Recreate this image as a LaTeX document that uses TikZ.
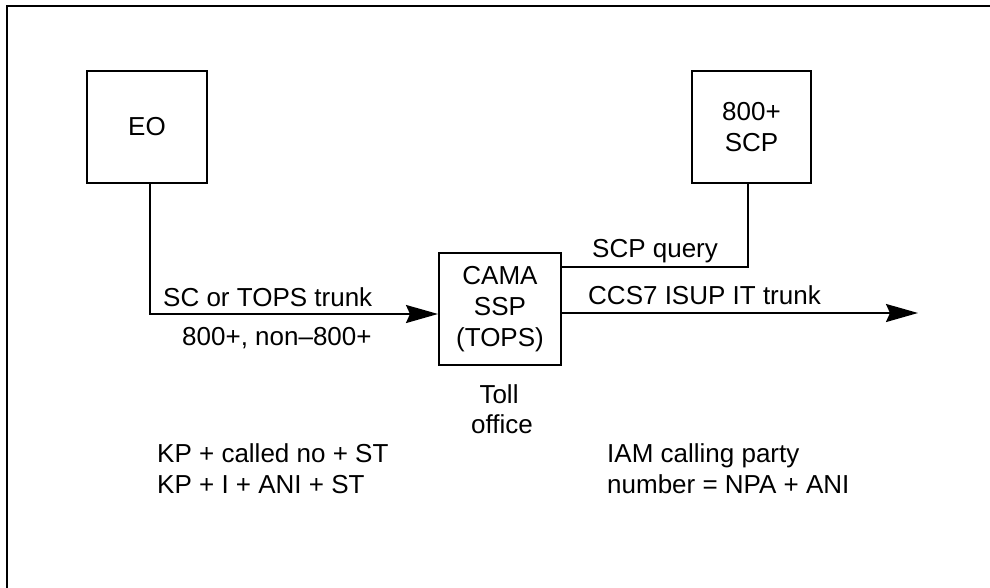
\documentclass[tikz,border=0pt]{standalone}
\usepackage{fontspec}
\setmainfont{Liberation Sans}
\usetikzlibrary{arrows.meta}
\tikzset{
  boxnode/.style={draw, line width=2pt, inner sep=0pt, align=center, font=\fontsize{26}{31}\selectfont},
  lbl/.style={inner sep=0pt, font=\fontsize{26}{31}\selectfont},
  conn/.style={line width=2pt},
  arr/.style={conn, -{Stealth[length=32pt,width=18pt,inset=4pt]}},
  framel/.style={line width=1.6pt}
}
\begin{document}
\begin{tikzpicture}[x=1pt,y=-1pt]
\useasboundingbox (0,0) rectangle (990,587);
% outer frame (cut at right and bottom)
\draw[framel] (7,600) -- (7,6) -- (1000,6);
% boxes
\node[boxnode, minimum width=120pt, minimum height=112pt] (EO) at (147,127) {EO};
\node[boxnode, minimum width=122pt, minimum height=112pt] (CAMA) at (500,309) {CAMA\\SSP\\(TOPS)};
\node[boxnode, minimum width=119pt, minimum height=112pt] (SCP) at (751.5,127) {800+\\SCP};
\coordinate (out) at (918,313);
% connectors
\draw[arr] ([xshift=3pt]EO.south) |- ([yshift=-5pt]CAMA.west);
\draw[conn] ([xshift=-3.5pt]SCP.south) |- ([yshift=42pt]CAMA.east);
\draw[arr] ([yshift=-4pt]CAMA.east) -- (out);
% labels
\node[lbl, anchor=base west] (l1) at (163,306) {SC or TOPS trunk};
\node[lbl, anchor=base west] (l2) at (182,345) {800+, non\textendash800+};
\node[lbl, anchor=base west] (l3) at (592,257) {SCP query};
\node[lbl, anchor=base west] (l4) at (588,304) {CCS7 ISUP IT trunk};
\node[lbl, anchor=base] (t1) at (499,403) {Toll};
\node[lbl, anchor=base] (t2) at (502,433) {office};
\node[lbl, anchor=base west] (b1) at (157,462) {KP + called no + ST};
\node[lbl, anchor=base west] (b2) at (157,493) {KP + I + ANI + ST};
\node[lbl, anchor=base west] (b3) at (607,462) {IAM calling party};
\node[lbl, anchor=base west] (b4) at (607,493) {number = NPA + ANI};
\end{tikzpicture}
\end{document}
